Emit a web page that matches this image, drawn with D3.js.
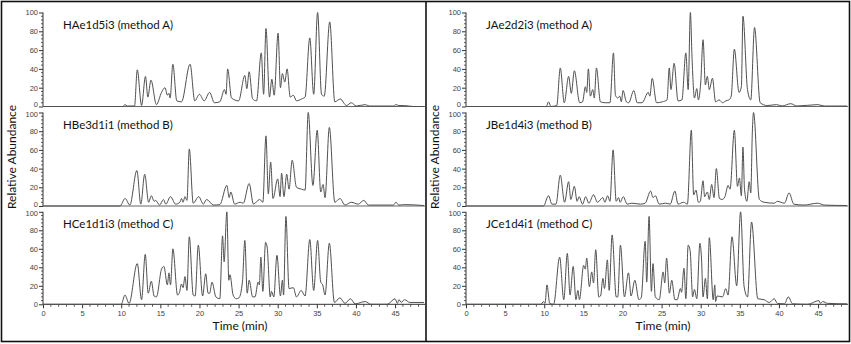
<!DOCTYPE html>
<html><head><meta charset="utf-8">
<script src="https://cdn.jsdelivr.net/npm/d3@7"></script>
<style>
body{margin:0;background:#fff;}
svg{display:block;}
</style></head>
<body>
<svg id="chart" width="851" height="344"></svg>
<script>
// ---- data: [time (min), relative abundance] vertices ----
const traceHA = [[0,0],[10.2,0],[10.47,2],[10.8,0.5],[11.7,0.5],[12.05,39],[12.6,1],[13.1,32],[13.4,10],[13.8,28],[14.5,2],[15.15,15],[15.6,20],[15.9,12],[16.1,14],[16.25,9],[16.6,45],[17.1,6],[17.7,5],[18.8,45],[19.4,6],[20.0,13],[20.6,6],[21.3,15],[21.9,4],[22.6,5],[23.2,18],[23.4,13],[23.6,40],[24.1,9],[25.0,6],[25.8,33],[26.05,19],[26.35,37],[26.8,8],[27.3,6],[27.9,57],[28.2,13],[28.5,83],[28.95,10],[29.25,29],[29.55,12],[30.05,78],[30.35,20],[30.6,35],[30.9,26],[31.2,40],[31.6,10],[32.0,12],[32.4,6],[33.05,8],[33.5,10],[34.1,73],[34.6,13],[35.1,100],[35.6,13],[35.95,11],[36.65,90],[37.3,5],[38.0,8],[38.8,1],[39.4,4],[40.05,0.5],[41.2,2],[41.7,0.5],[44.8,0.5],[45.1,2],[45.5,1],[46.2,1],[47.3,0],[48.7,0]];
const traceHB = [[0,0],[9.83,0],[10.5,8],[11.1,1],[12.0,38],[12.5,2],[13.0,34],[13.5,4],[13.85,11],[14.2,5],[14.4,6],[14.9,1],[15.4,7],[15.7,2],[16.3,10],[16.95,2],[17.5,4],[17.7,8],[17.9,4],[18.15,10],[18.4,6],[18.7,61],[19.2,3],[19.9,10],[20.5,2],[20.9,7],[21.8,1],[22.6,1.5],[23.5,22],[23.8,9],[24.0,15],[24.5,2],[25.2,4],[25.6,3],[26.35,24],[26.9,2],[27.7,7],[28.1,4],[28.5,75],[28.8,13],[29.1,47],[29.4,8],[30.0,29],[30.3,10],[30.5,35],[30.8,10],[31.15,34],[31.45,18],[31.85,49],[32.4,20],[33.05,18],[33.5,17],[33.9,100],[34.5,22],[35.05,81],[35.5,15],[35.8,23],[36.05,9],[36.6,84],[37.3,4],[37.95,8],[38.6,1],[39.4,4],[40.3,2],[41.0,6],[41.6,1],[44.8,1],[45.1,4],[45.5,1],[46.2,1.5],[48.7,0.5]];
const traceHC = [[0,0],[10.0,0],[10.47,10],[11.0,1],[12.05,44],[12.6,5],[13.07,54],[13.45,12],[13.85,25],[14.2,9],[14.5,8],[15.15,38],[15.45,41],[15.9,21],[16.1,34],[16.3,21],[16.6,60],[17.2,10],[17.45,13],[17.7,22],[17.9,18],[18.15,30],[18.4,15],[18.7,73],[19.2,10],[19.45,9],[19.85,64],[20.4,9],[20.8,33],[21.1,12],[21.3,12],[21.6,24],[22.1,8],[22.6,6],[22.95,74],[23.15,46],[23.5,100],[23.75,26],[23.9,32],[24.3,10],[24.7,6],[25.05,7],[25.5,25],[25.8,69],[26.1,12],[26.35,26],[26.8,8],[27.1,8],[27.5,24],[27.65,21],[27.85,51],[28.1,14],[28.45,67],[28.65,62],[29.05,8],[29.2,14],[29.5,8],[29.9,53],[30.35,9],[30.6,26],[30.75,10],[31.05,95],[31.45,17],[32.0,18],[32.4,8],[33.0,15],[33.5,9],[34.1,70],[34.6,15],[35.1,69],[35.5,24],[35.75,21],[36.05,10],[36.6,66],[37.25,2],[37.95,7],[38.6,1],[39.3,6],[39.9,0.5],[41.2,3],[41.9,0],[44.0,0],[45.0,6],[45.3,1],[45.5,5],[45.8,2],[46.2,5],[46.9,2],[48.7,2]];
const traceJA = [[0,0],[10.26,0],[10.55,5],[10.85,0],[11.6,1],[12.05,41],[12.56,4],[13.12,32],[13.46,14],[13.85,38],[14.53,4],[14.9,5],[15.26,21],[15.43,15],[15.64,40],[15.9,11],[16.2,18],[16.4,9],[16.67,41],[17.18,5],[17.8,4],[18.4,4],[18.85,57],[19.1,12],[19.4,9],[19.66,11],[19.85,5],[20.08,17],[20.5,5],[20.8,4],[21.45,17],[21.88,4],[22.5,4],[23.3,15],[23.5,11],[23.8,30],[24.36,4],[25.1,5],[25.7,7],[25.98,41],[26.2,18],[26.6,46],[27.1,6],[27.6,7],[28.1,57],[28.4,18],[28.68,100],[28.9,50],[29.2,9],[29.5,19],[29.7,7],[30.0,25],[30.3,71],[30.6,23],[30.85,32],[31.1,18],[31.5,30],[31.9,5],[32.35,7],[32.8,4],[33.2,6],[33.6,7],[33.9,11],[34.3,61],[34.9,15],[35.2,21],[35.4,96],[35.98,18],[36.4,7],[36.88,84],[37.6,4],[38.5,1],[39.7,2],[40.4,0.5],[41.5,3],[42.3,0.5],[44.96,2],[45.8,0.5],[48.7,0.5]];
const traceJB = [[0,0],[9.9,0],[10.55,11],[10.98,2],[11.5,2],[12.05,33],[12.6,4],[13.12,26],[13.4,7],[13.85,21],[14.2,5],[14.45,10],[14.9,2],[15.3,10],[15.7,3],[16.3,12],[16.8,4],[17.5,9],[17.75,4],[18.1,11],[18.4,5],[18.8,60],[19.2,5],[19.5,9],[19.7,4],[20.1,10],[20.6,2],[21.2,3],[22.3,2],[22.9,3],[23.6,16],[23.9,9],[24.2,11],[24.7,2],[25.5,3],[26.1,2],[26.7,16],[27.1,2],[27.8,4],[28.3,2],[28.8,81],[29.1,12],[29.4,17],[29.7,4],[29.95,5],[30.3,27],[30.5,10],[30.85,15],[31.1,7],[31.4,23],[31.7,9],[32.0,40],[32.4,8],[32.75,7],[33.1,10],[33.5,22],[33.75,18],[34.3,81],[34.7,21],[34.95,30],[35.2,11],[35.4,63],[35.6,18],[35.9,5],[36.2,26],[36.4,14],[36.6,79],[36.75,100],[37.5,7],[38.1,4],[39.4,3],[39.8,5],[40.7,3],[41.3,14],[41.9,2],[43.2,1],[44.96,3],[45.8,1],[48.7,0.5]];
const traceJC = [[0,0],[9.6,0],[9.9,3],[10.1,1],[10.35,21],[10.7,1],[11.2,0],[11.97,51],[12.5,5],[12.95,55],[13.3,10],[13.7,41],[14.05,5],[14.3,15],[14.5,5],[15.04,42],[15.25,38],[15.43,50],[15.77,19],[16.07,35],[16.3,23],[16.58,59],[16.97,8],[17.2,9],[17.5,28],[17.7,17],[18.07,48],[18.3,15],[18.68,75],[19.2,8],[19.4,8],[19.74,64],[20.25,8],[20.77,34],[21.1,9],[21.58,26],[22.1,5],[22.4,7],[22.9,68],[23.1,24],[23.4,95],[23.7,14],[23.9,44],[24.2,8],[24.7,5],[25.2,35],[25.4,23],[25.64,50],[26.0,12],[26.3,26],[26.7,5],[27.0,5],[27.4,17],[27.55,13],[27.86,39],[28.1,6],[28.4,64],[28.65,58],[28.97,8],[29.2,16],[29.5,6],[29.9,66],[30.1,50],[30.3,8],[30.6,28],[30.85,6],[31.1,72],[31.6,5],[31.8,21],[31.9,3],[32.1,9],[32.8,8],[33.2,17],[33.5,10],[34.0,73],[34.6,20],[35.1,100],[35.55,19],[35.99,8],[36.5,89],[37.3,6],[38.1,5],[38.76,2],[39.4,6],[39.8,1],[40.7,0.5],[41.2,8],[41.75,0.5],[43.7,0],[45.1,4],[45.3,1],[45.6,3],[46.2,1],[48.7,0.5]];

const panelTitles = [
  ["HAe1d5i3 (method A)","HBe3d1i1 (method B)","HCe1d1i3 (method C)"],
  ["JAe2d2i3 (method A)","JBe1d4i3 (method B)","JCe1d4i1 (method C)"]
];
const panelTraces = [[traceHA,traceHB,traceHC],[traceJA,traceJB,traceJC]];
const xTicks = [0,5,10,15,20,25,30,35,40,45];
const yTicks = [0,20,40,60,80,100];
const xLabel = "Time (min)";
const yLabel = "Relative Abundance";

// ---- layout ----
const svg = d3.select("#chart");
const colX = [{x0:43, x1:424}, {x0:466, x1:847}];
const rowY = [{y0:106.5, y1:12.5}, {y0:206, y1:112.5}, {y0:304.3, y1:211.8}];
const axisColor = "#333";
const tickFont = "Liberation Sans, Arial, sans-serif";
const textFont = "Lato, 'Open Sans', sans-serif";

// frame
svg.append("rect").attr("x",1.5).attr("y",1.5).attr("width",848).attr("height",340)
  .attr("fill","none").attr("stroke","#111").attr("stroke-width",1.6);
svg.append("line").attr("x1",426).attr("x2",426).attr("y1",1.5).attr("y2",341.5)
  .attr("stroke","#111").attr("stroke-width",1.6);

colX.forEach((c, ci) => {
  const x = d3.scaleLinear().domain([0,48.7]).range([c.x0, c.x1]);
  rowY.forEach((r, ri) => {
    const y = d3.scaleLinear().domain([0,100]).range([r.y0, r.y1]);
    const g = svg.append("g");

    // y axis major
    const yAx = g.append("g").attr("transform",`translate(${c.x0},0)`)
      .call(d3.axisLeft(y).tickValues(yTicks).tickSize(4).tickPadding(1).tickFormat(d3.format("d")));
    yAx.select(".domain").attr("stroke",axisColor).attr("d",`M0,${r.y0}V${r.y1}`);
    yAx.selectAll(".tick line").attr("stroke",axisColor);
    yAx.selectAll(".tick text").attr("font-family",tickFont).attr("font-size",7.5).attr("fill","#444")
      .attr("dy", d => d === 0 && ri < 2 ? "0.05em" : (d === 100 && ri > 0 ? "0.55em" : "0.32em"));
    // y minor
    const yMin = d3.range(0,101,4).filter(v => v%20!==0);
    g.append("g").selectAll("line").data(yMin).join("line")
      .attr("x1",c.x0-2).attr("x2",c.x0).attr("y1",d=>y(d)).attr("y2",d=>y(d))
      .attr("stroke",axisColor).attr("stroke-width",0.8);

    // baseline / x axis
    if (ri < 2) {
      g.append("line").attr("x1",c.x0).attr("x2",c.x1+1).attr("y1",r.y0).attr("y2",r.y0)
        .attr("stroke","#666").attr("stroke-width",1);
    } else {
      const xAx = g.append("g").attr("transform",`translate(0,${r.y0})`)
        .call(d3.axisBottom(x).tickValues(xTicks).tickSize(4).tickPadding(2).tickFormat(d3.format("d")));
      xAx.select(".domain").attr("stroke",axisColor).attr("d",`M${c.x0},0H${c.x1+1}`);
      xAx.selectAll(".tick line").attr("stroke",axisColor);
      xAx.selectAll(".tick text").attr("font-family",tickFont).attr("font-size",7.5).attr("fill","#444");
      const xMin = d3.range(0,49,1).filter(v => v%5!==0);
      g.append("g").selectAll("line").data(xMin).join("line")
        .attr("x1",d=>x(d)).attr("x2",d=>x(d)).attr("y1",r.y0).attr("y2",r.y0+2.5)
        .attr("stroke",axisColor).attr("stroke-width",0.8);
      g.append("text").attr("x",c.x0+197).attr("y",r.y0+26)
        .attr("text-anchor","middle").attr("font-family",textFont).attr("font-size",12)
        .attr("fill","#111").text(xLabel);
    }

    // trace
    const line = d3.line().x(d=>x(d[0])).y(d=>y(d[1])).curve(d3.curveMonotoneX);
    g.append("path").datum(panelTraces[ci][ri]).attr("d",line)
      .attr("fill","none").attr("stroke","#505050").attr("stroke-width",1).attr("stroke-linejoin","round");

    // title
    g.append("text").attr("x",c.x0+20).attr("y",r.y1+16)
      .attr("font-family",textFont).attr("font-size",11.5).attr("fill","#111")
      .text(panelTitles[ci][ri]);
  });
  // y label
  svg.append("text").attr("transform",`translate(${c.x0-27},157) rotate(-90)`)
    .attr("text-anchor","middle").attr("font-family",textFont).attr("font-size",12)
    .attr("fill","#111").text(yLabel);
});
</script>
</body></html>
